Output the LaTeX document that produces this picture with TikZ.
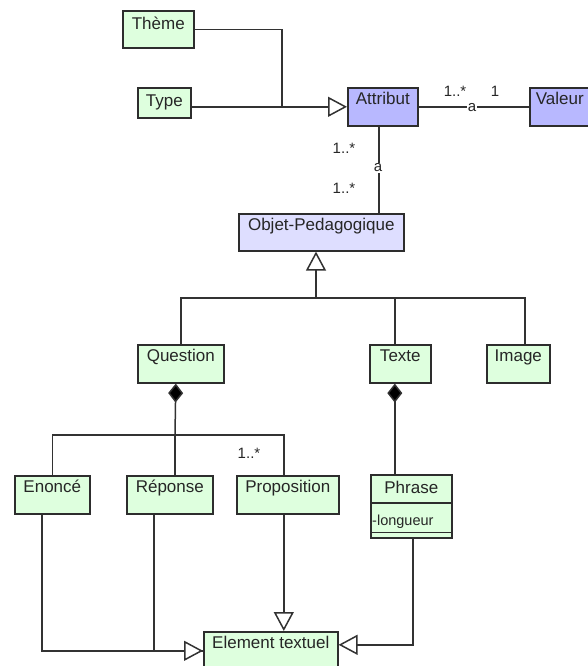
\documentclass[tikz,border=0pt]{standalone}
\usepackage{fontspec}
\setmainfont{Liberation Sans}
\usetikzlibrary{arrows.meta}
\definecolor{clsgreen}{RGB}{222,255,222}
\definecolor{clspurple}{RGB}{184,184,255}
\definecolor{clslav}{RGB}{222,222,255}
\definecolor{boxborder}{RGB}{45,45,45}
\definecolor{linkcol}{RGB}{50,50,50}
\newcommand\clsfont{\fontsize{17}{20}\selectfont}
\newcommand\labfont{\fontsize{15}{18}\selectfont}
\begin{document}
\begin{tikzpicture}[x=1pt,y=-1pt,
  cls/.style n args={4}{draw=boxborder, line width=1.6pt, inner sep=0pt, anchor=north west,
     font=\clsfont, text=black!85, minimum width=#1, minimum height=#2, text height=#3, text depth=#4},
  gr/.style={fill=clsgreen},
  pu/.style={fill=clspurple},
  la/.style={fill=clslav},
  link/.style={draw=linkcol, line width=1.5pt},
  gen/.style={link, -{Triangle[open, length=19pt, width=20pt, fill=white]}},
  comp/.style={link, {Diamond[length=19pt, width=15pt, fill=black]}-},
  lab/.style={font=\labfont, text=black!85, inner sep=0.5pt},
  labw/.style={font=\labfont, text=black!85, inner sep=1pt, fill=white}
]
\useasboundingbox (0,0) rectangle (587,666);

% classes
\node[cls={71pt}{37pt}{19pt}{18pt}, gr] (theme) at (122,10) {Thème};
\node[cls={53pt}{30pt}{19pt}{11pt}, gr] (type) at (137,87) {Type};
\node[cls={70pt}{38pt}{17pt}{21pt}, pu] (attribut) at (347,87) {Attribut};
\node[cls={70pt}{38pt}{17pt}{21pt}, pu, text width=64pt, align=left] (valeur) at (529,87) {\hspace*{3pt}Valeur};
\node[cls={165pt}{37pt}{16.5pt}{20.5pt}, la] (objet) at (238,213) {Objet-Pedagogique};
\node[cls={86pt}{38pt}{17pt}{21pt}, gr] (question) at (137,344) {Question};
\node[cls={61pt}{38pt}{17pt}{21pt}, gr] (texte) at (369,344) {Texte};
\node[cls={63pt}{38pt}{17pt}{21pt}, gr] (image) at (486,344) {Image};
\node[cls={75pt}{38pt}{17pt}{21pt}, gr] (enonce) at (14,475) {Enoncé};
\node[cls={86pt}{38pt}{17pt}{21pt}, gr] (reponse) at (126,475) {Réponse};
\node[cls={102pt}{38pt}{17pt}{21pt}, gr] (proposition) at (236,475) {Proposition};
\node[cls={81pt}{63pt}{19pt}{44pt}, gr] (phrase) at (370,474) {Phrase};
\node[cls={134pt}{38pt}{17pt}{21pt}, gr] (element) at (203,631) {Element textuel};

% phrase compartments
\draw[draw=boxborder, line width=1.6pt] ([yshift=-29pt]phrase.north west) -- ([yshift=-29pt]phrase.north east);
\draw[draw=boxborder, line width=1.6pt] ([yshift=6pt]phrase.south west) -- ([yshift=6pt]phrase.south east);
\node[font=\fontsize{14.5}{17}\selectfont, text=black!85, inner sep=0pt, anchor=base west] (longueur) at (372,525) {-longueur};

% junctions
\coordinate (j1) at (282,106);
\coordinate (j2) at (316,298);
\coordinate (j3) at (175,435);

% Theme / Type -> Attribut
\draw[link] (theme.east) -| (j1);
\draw[gen] (type.east |- attribut.west) -- (attribut.west);

% Attribut - Valeur
\draw[link] (attribut.east) -- (valeur.west);
\node[labw] (a1) at (472,108) {a};
\node[lab] (m1) at (455,91) {1..*};
\node[lab] (m2) at (495,91) {1};

% Attribut - Objet
\draw[link] ([xshift=-4pt]attribut.south) -- ([xshift=-4pt]attribut.south |- objet.north);
\node[labw] (a2) at (378,168) {a};
\node[lab] (m3) at (344,148) {1..*};
\node[lab] (m4) at (344,188) {1..*};

% generalisation Objet
\draw[gen] (j2) -- (j2 |- objet.south);
\draw[link] (question.north) |- (j2);
\draw[link] ([xshift=6.5pt]image.north) |- (j2);
\draw[link] ([xshift=-5.5pt]texte.north) -- ([xshift=-5.5pt]texte.north |- j2);

% composition Question
\draw[comp] ([xshift=-5pt]question.south) -- (j3);
\draw[link] (enonce.north) |- (j3);
\draw[link] ([xshift=-4pt]proposition.north) |- (j3);
\draw[link] (j3) -- (j3 |- reponse.north);
\node[lab] (m5) at (249,453) {1..*};

% composition Texte
\draw[comp] ([xshift=-5.5pt]texte.south) -- ([xshift=-5.5pt]texte.south |- phrase.north);

% generalisation Element textuel
\draw[link] ([xshift=-10.5pt]enonce.south) |- (element.west);
\draw[gen] ([xshift=-16pt]reponse.south) |- (element.west);
\draw[gen] ([xshift=-4pt]proposition.south) -- ([xshift=-4pt]proposition.south |- element.north);
\draw[gen] ([xshift=1.5pt]phrase.south) |- ([yshift=6pt]element.east);
\end{tikzpicture}
\end{document}
